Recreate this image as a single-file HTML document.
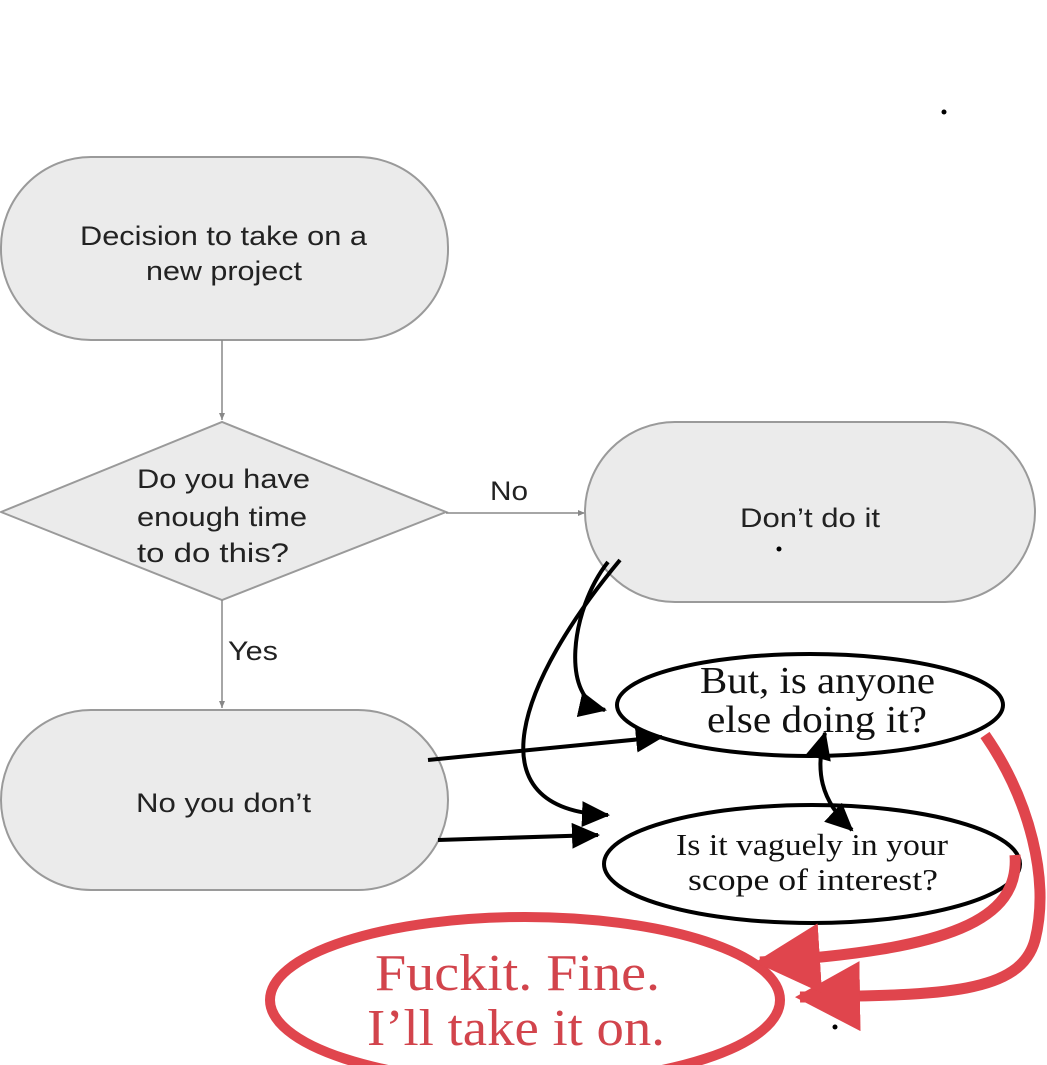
<!DOCTYPE html>
<html><head><style>
html,body{margin:0;padding:0;background:#fff;}
svg{display:block;}
</style></head><body>
<svg width="1047" height="1065" viewBox="0 0 1047 1065" xmlns="http://www.w3.org/2000/svg">
<defs>
<marker id="ga" markerWidth="8" markerHeight="8" refX="7" refY="4" orient="auto" markerUnits="userSpaceOnUse"><path d="M0,1 L7,4 L0,7Z" fill="#888"/></marker>
<marker id="ba" markerWidth="30" markerHeight="26" refX="26" refY="13" orient="auto" markerUnits="userSpaceOnUse"><path d="M0,0 L28,13 L0,26Z" fill="#000"/></marker>
<marker id="bs" markerWidth="30" markerHeight="26" refX="2" refY="13" orient="auto" markerUnits="userSpaceOnUse"><path d="M28,0 L0,13 L28,26Z" fill="#000"/></marker>
<marker id="ra" markerWidth="70" markerHeight="70" refX="60" refY="35" orient="auto" markerUnits="userSpaceOnUse"><path d="M0,0 L65,35 L0,70Z" fill="#e0454d"/></marker>
</defs>
<rect width="1047" height="1065" fill="#fff"/>
<g font-family="Liberation Sans, sans-serif" font-size="27" fill="#222" lengthAdjust="spacingAndGlyphs">
<rect x="1" y="157" width="447" height="183" rx="90" fill="#ebebeb" stroke="#9a9a9a" stroke-width="2"/>
<text x="80" y="245" textLength="287" lengthAdjust="spacingAndGlyphs">Decision to take on a</text>
<text x="146" y="280" textLength="156" lengthAdjust="spacingAndGlyphs">new project</text>
<line x1="222" y1="340" x2="222" y2="420" stroke="#888" stroke-width="1.5" marker-end="url(#ga)"/>
<polygon points="1,512 222,422 446,512 222,600" fill="#ebebeb" stroke="#9a9a9a" stroke-width="2"/>
<text x="137" y="488" textLength="173" lengthAdjust="spacingAndGlyphs">Do you have</text>
<text x="137" y="526" textLength="170" lengthAdjust="spacingAndGlyphs">enough time</text>
<text x="137" y="562" textLength="152" lengthAdjust="spacingAndGlyphs">to do this?</text>
<line x1="446" y1="513" x2="585" y2="513" stroke="#888" stroke-width="1.5" marker-end="url(#ga)"/>
<text x="490" y="500" textLength="38" lengthAdjust="spacingAndGlyphs">No</text>
<rect x="585" y="422" width="450" height="180" rx="90" fill="#ebebeb" stroke="#9a9a9a" stroke-width="2"/>
<text x="740" y="527" textLength="140" lengthAdjust="spacingAndGlyphs">Don’t do it</text>
<line x1="222" y1="600" x2="222" y2="708" stroke="#888" stroke-width="1.5" marker-end="url(#ga)"/>
<text x="228" y="660" textLength="50" lengthAdjust="spacingAndGlyphs">Yes</text>
<rect x="1" y="710" width="447" height="180" rx="90" fill="#ebebeb" stroke="#9a9a9a" stroke-width="2"/>
<text x="136" y="812" textLength="175" lengthAdjust="spacingAndGlyphs">No you don’t</text>
</g>
<circle cx="944" cy="112" r="2.5" fill="#000"/>
<circle cx="779" cy="549" r="2.5" fill="#000"/>
<ellipse cx="810" cy="705" rx="193" ry="51" fill="#fff" stroke="#000" stroke-width="4"/>
<ellipse cx="812" cy="864" rx="208" ry="59" fill="#fff" stroke="#000" stroke-width="4"/>
<g font-family="Liberation Serif, serif" fill="#111">
<text x="700" y="693" font-size="38" textLength="235" lengthAdjust="spacingAndGlyphs">But, is anyone</text>
<text x="707" y="732" font-size="38" textLength="220" lengthAdjust="spacingAndGlyphs">else doing it?</text>
<text x="676" y="855" font-size="31" textLength="272" lengthAdjust="spacingAndGlyphs">Is it vaguely in your</text>
<text x="688" y="890" font-size="31" textLength="250" lengthAdjust="spacingAndGlyphs">scope of interest?</text>
</g>
<g fill="none" stroke="#000" stroke-width="4">
<path d="M608,562 C570,610 560,700 605,710" marker-end="url(#ba)"/>
<path d="M620,560 C520,680 470,810 608,815" marker-end="url(#ba)"/>
<path d="M428,760 L662,737" marker-end="url(#ba)"/>
<path d="M438,840 L598,835" marker-end="url(#ba)"/>
<path d="M825,733 C815,770 820,800 852,830" marker-end="url(#ba)" marker-start="url(#bs)"/>
</g>
<ellipse cx="525" cy="1000" rx="255" ry="83" fill="none" stroke="#e0454d" stroke-width="10"/>
<g font-family="Liberation Serif, serif" fill="#d2444c" font-size="52">
<text x="375" y="990" textLength="285" lengthAdjust="spacingAndGlyphs">Fuckit. Fine.</text>
<text x="367" y="1045" textLength="298" lengthAdjust="spacingAndGlyphs">I’ll take it on.</text>
</g>
<g fill="none" stroke="#e0454d" stroke-width="11">
<path d="M985,735 C1030,800 1050,880 1035,940 C1020,995 940,995 800,997" marker-end="url(#ra)"/>
<path d="M1015,855 C1020,920 950,950 760,962" marker-end="url(#ra)"/>
</g>
<circle cx="835" cy="1027" r="2.5" fill="#000"/>
</svg>
</body></html>
